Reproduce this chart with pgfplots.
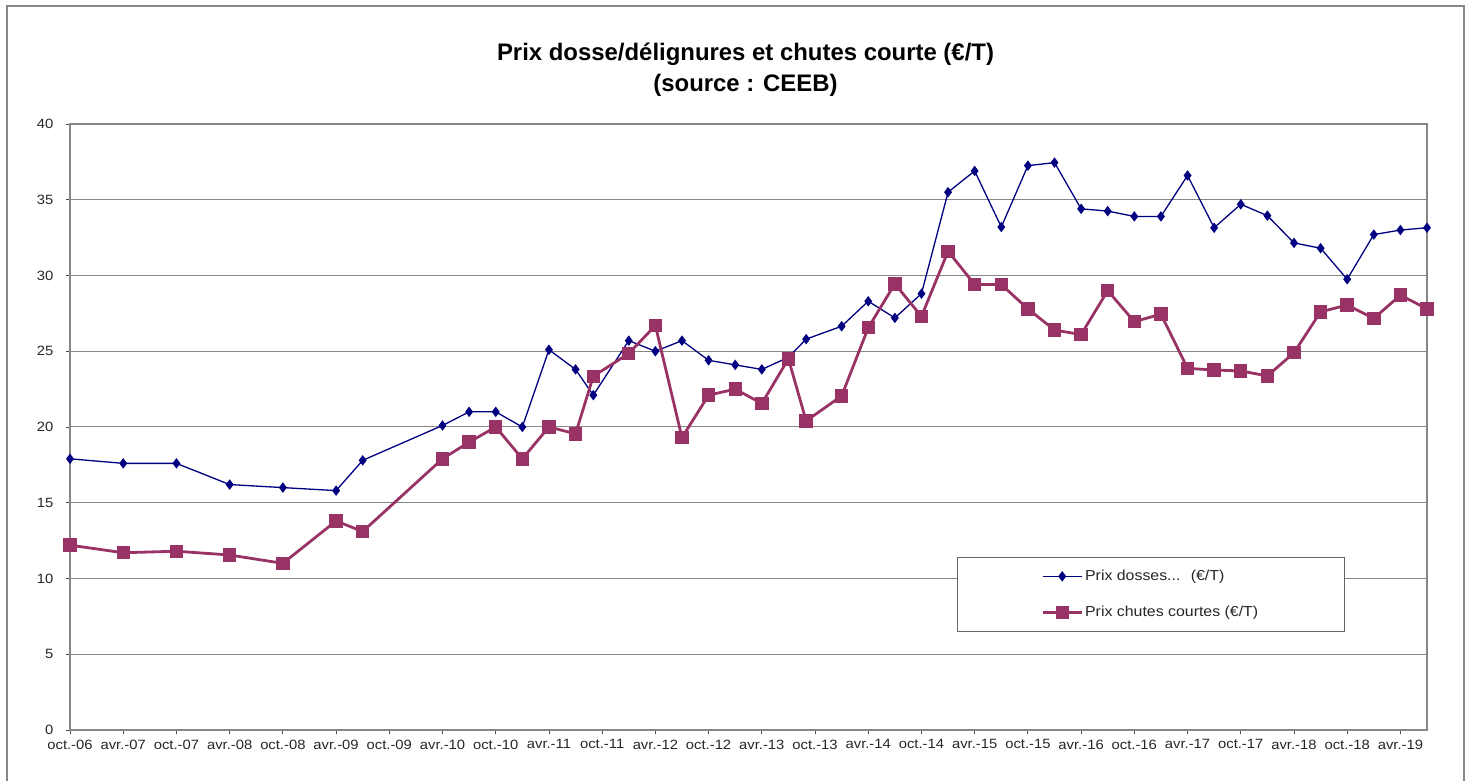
\documentclass[border=0pt]{standalone}
\usepackage{fontspec}
\setmainfont{Liberation Sans}
\newfontfamily\tickfont[FakeStretch=1.1]{Liberation Sans}
\usepackage{pgfplots}
\pgfplotsset{compat=1.18}
\definecolor{navyc}{RGB}{0,0,128}
\definecolor{plumc}{RGB}{153,51,102}
\definecolor{gridc}{RGB}{135,135,135}
\begin{document}
\begin{tikzpicture}[x=1bp,y=1bp]
\path (0,0) rectangle (1472,781);
\draw[gridc, line width=1.2bp] (7,0) -- (7,775) -- (1464,775) -- (1464,0);
\node[font=\bfseries\fontsize{24}{31}\selectfont, anchor=base] at (745.5,781-61) {Prix dosse/délignures et chutes courte (€/T)};
\node[font=\bfseries\fontsize{24}{31}\selectfont, anchor=base] at (745.5,781-92) {(source : CEEB)};
\begin{axis}[
  at={(70bp,51bp)}, anchor=south west,
  scale only axis, width=1357bp, height=606bp,
  xmin=0, xmax=153, ymin=0, ymax=40,
  xtick={0,6,...,150},
  xticklabels={oct.-06,avr.-07,oct.-07,avr.-08,oct.-08,avr.-09,oct.-09,avr.-10,oct.-10,avr.-11,oct.-11,avr.-12,oct.-12,avr.-13,oct.-13,avr.-14,oct.-14,avr.-15,oct.-15,avr.-16,oct.-16,avr.-17,oct.-17,avr.-18,oct.-18,avr.-19},
  ytick={0,5,...,40},
  ymajorgrids, grid style={gridc, line width=1bp},
  axis line style={gridc, line width=1.2bp},
  tick style={black!70, line width=0.8bp},
  tick align=outside, major tick length=4.5bp,
  xtick pos=bottom, ytick pos=left,
  /pgf/number format/assume math mode=true,
  ticklabel style={font=\tickfont\fontsize{13.5}{15}\selectfont, text=black!85},
  xticklabel style={inner sep=1bp, yshift=-4bp},
  yticklabel style={inner sep=1bp, xshift=-11bp},
  legend style={at={(0.6536,0.2855)}, anchor=north west, draw=black!60, line width=0.8bp,
    inner xsep=84bp, inner ysep=11bp, row sep=20bp,
    font=\tickfont\fontsize{14.5}{16}\selectfont, text=black!85,
    legend cell align=left},
  legend image code/.code={\draw[mark repeat=2,mark phase=2] plot coordinates {(0bp,0bp) (19.5bp,0bp) (39bp,0bp)};},
]
\addplot[navyc, line width=1.3bp, mark=diamond*, mark size=4.2bp, mark options={solid, fill=navyc}] coordinates {
(0,17.9) (6,17.6) (12,17.6) (18,16.2) (24,16.0) (30,15.8) (33,17.8)
(42,20.1) (45,21.0) (48,21.0) (51,20.0) (54,25.1) (57,23.8) (59,22.1)
(63,25.7) (66,25.0) (69,25.7) (72,24.4) (75,24.1) (78,23.8) (81,24.6)
(83,25.8) (87,26.65) (90,28.3) (93,27.2) (96,28.8) (99,35.5) (102,36.9)
(105,33.2) (108,37.25) (111,37.45) (114,34.4) (117,34.25) (120,33.9)
(123,33.9) (126,36.6) (129,33.15) (132,34.7) (135,33.95) (138,32.15)
(141,31.8) (144,29.75) (147,32.7) (150,33.0) (153,33.15)
};
\addlegendentry{Prix dosses... \ (€/T)}
\addplot[plumc, line width=2.8bp, mark=square*, mark size=5.3bp, mark options={solid, fill=plumc}] coordinates {
(0,12.2) (6,11.7) (12,11.8) (18,11.55) (24,11.0) (30,13.8) (33,13.1)
(42,17.9) (45,19.0) (48,20.0) (51,17.9) (54,20.0) (57,19.55) (59,23.35)
(63,24.85) (66,26.7) (69,19.3) (72,22.1) (75,22.5) (78,21.55) (81,24.5)
(83,20.4) (87,22.05) (90,26.55) (93,29.45) (96,27.3) (99,31.6) (102,29.4)
(105,29.4) (108,27.8) (111,26.4) (114,26.1) (117,29.0) (120,26.95)
(123,27.45) (126,23.87) (129,23.76) (132,23.7) (135,23.37) (138,24.9)
(141,27.6) (144,28.05) (147,27.17) (150,28.7) (153,27.8)
};
\addlegendentry{Prix chutes courtes (€/T)}
\end{axis}
\end{tikzpicture}
\end{document}
